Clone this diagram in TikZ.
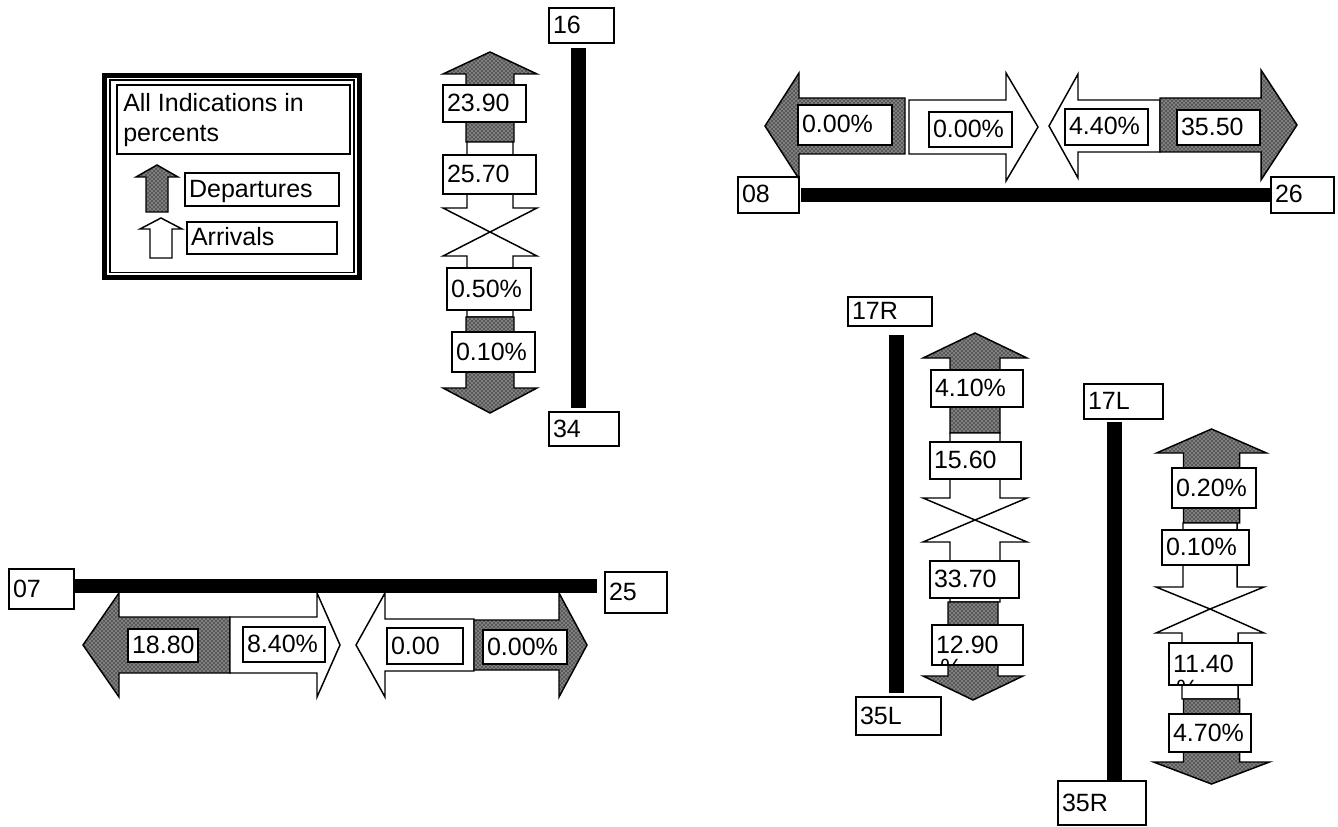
\documentclass[tikz,border=0pt]{standalone}
\usepackage{fontspec}
\setmainfont{Liberation Sans}
\usetikzlibrary{fit,patterns}
\newcommand\lblfont{\fontsize{18.75}{22.5}\selectfont}
\tikzset{
  ln/.style={line width=1.1pt, line join=miter},
  dep/.style={ln, draw=black, preaction={fill=black!65}, pattern=crosshatch dots, pattern color=white},
  arr/.style={ln, draw=black, fill=white},
  lblbox/.style={draw=black, line width=1.1pt, fill=white, inner sep=0pt, rectangle},
  lbltxt/.style={inner sep=0pt, font=\lblfont, anchor=base west},
  bar/.style={fill=black},
}
% vertical arrow: style, cx, tip y, head base y, end y, head half width, shaft half width
\newcommand\varrow[7]{\draw[#1] (#2,#3) -- ({#2+#6},#4) -- ({#2+#7},#4) -- ({#2+#7},#5) -- ({#2-#7},#5) -- ({#2-#7},#4) -- ({#2-#6},#4) -- cycle;}
% horizontal arrow: style, cy, tip x, head base x, end x, head half height, shaft half height
\newcommand\harrow[7]{\draw[#1] (#3,#2) -- (#4,{#2-#6}) -- (#4,{#2-#7}) -- (#5,{#2-#7}) -- (#5,{#2+#7}) -- (#4,{#2+#7}) -- (#4,{#2+#6}) -- cycle;}
% labelled box: name, x0, y0, x1, y1, text
\newcommand\lab[6]{%
  \path (#2,#3) coordinate (#1a) (#4,#5) coordinate (#1b);
  \node[lblbox, fit=(#1a)(#1b)] (#1) {};
  \node[lbltxt] (#1t) at ([xshift=3.4pt,yshift=-6pt]#1.west) {#6};}
\begin{document}
\begin{tikzpicture}[x=0.75pt,y=-0.75pt]
\useasboundingbox (0,0) rectangle (1338,827);

% ---------- legend ----------
\draw[line width=3.75pt] (104.5,75.2) rectangle (359.5,277.5);
\draw[line width=1pt] (110,80) rectangle (354,272.5);
\path (117,85) coordinate (lgta) (350,154) coordinate (lgtb);
\node[lblbox, fit=(lgta)(lgtb)] (lgt) {};
\node[inner sep=0pt, font=\lblfont, align=left, anchor=north west] (lgtt) at (123,93.5) {All Indications in\\percents};
\varrow{dep}{157}{165}{177}{212}{21}{11}
\varrow{arr}{161}{218}{229}{258}{21}{11}
\lab{lg1}{185}{173}{339}{206}{Departures}
\lab{lg2}{187}{222}{337}{254}{Arrivals}

% ---------- runway 16/34 ----------
\lab{r16}{549}{8}{614}{43}{16}
\fill[bar] (571,48) rectangle (586,408);
\lab{r34}{549}{412}{619}{446}{34}
\varrow{dep}{490}{52}{74}{142}{47}{24}
\varrow{arr}{490}{232}{208}{142}{47}{23}
\varrow{arr}{490}{232}{256}{317}{47}{23}
\varrow{dep}{490}{413}{388}{317}{47}{24}
\lab{a1}{443}{85}{526}{122}{23.90}
\lab{a2}{443}{155}{536}{194}{25.70}
\lab{a3}{447}{268}{531}{310}{0.50\%}
\lab{a4}{452}{332}{535}{372}{0.10\%}

% ---------- runway 08/26 ----------
\lab{r08}{738}{177}{799}{213}{08}
\fill[bar] (801,188) rectangle (1270,202);
\lab{r26}{1271}{177}{1334}{213}{26}
\harrow{dep}{126}{765}{799}{905}{53}{28}
\harrow{arr}{127}{1038}{1006}{909}{54}{27}
\harrow{arr}{126}{1049}{1078}{1160}{52}{26}
\harrow{dep}{125}{1297}{1261}{1160}{55}{27}
\lab{d1}{798}{105}{892}{145}{0.00\%}
\lab{d2}{929}{112}{1012}{147}{0.00\%}
\lab{d3}{1065}{109}{1148}{145}{4.40\%}
\lab{d4}{1177}{110}{1260}{145}{35.50}

% ---------- runway 07/25 ----------
\lab{r07}{9}{569}{74}{609}{07}
\fill[bar] (73,579) rectangle (597,593);
\lab{r25}{605}{572}{667}{613}{25}
\harrow{dep}{645}{83}{119}{230}{52}{28}
\harrow{arr}{645}{340}{317}{230}{52}{28}
\harrow{arr}{645}{356}{385}{474}{52}{26}
\harrow{dep}{645}{587}{559}{474}{52}{25}
\lab{e1}{128}{629}{198}{662}{18.80}
\lab{e2}{243}{627}{325}{662}{8.40\%}
\lab{e3}{387}{628}{463}{664}{0.00}
\lab{e4}{483}{630}{567}{664}{0.00\%}

% ---------- runway 17R/35L ----------
\lab{r17R}{848}{297}{932}{326}{17R}
\fill[bar] (889,335) rectangle (904,693);
\lab{r35L}{856}{697}{941}{735}{35L}
\varrow{dep}{975}{333}{358}{433}{52}{25}
\varrow{arr}{975}{520}{498}{433}{52}{25}
\varrow{arr}{975}{520}{542}{602}{52}{25}
\varrow{dep}{973}{700}{676}{602}{50}{25}
\lab{b1}{931}{370}{1023}{407}{4.10\%}
\lab{b2}{930}{442}{1021}{479}{15.60}
\lab{b3}{930}{561}{1019}{598}{33.70}
\lab{b4}{932}{625}{1023}{665}{12.90}
\begin{scope}
\clip (932,625) rectangle (1023,665);
\node[lbltxt, anchor=north west] (b4p) at (940,659) {\%};
\end{scope}

% ---------- runway 17L/35R ----------
\lab{r17L}{1084}{384}{1163}{419}{17L}
\fill[bar] (1107,422) rectangle (1122,780);
\lab{r35R}{1058}{781}{1146}{825}{35R}
\varrow{dep}{1211.5}{429}{453}{523}{55}{28}
\varrow{arr}{1210}{609}{587}{523}{54}{27}
\varrow{arr}{1210}{609}{633}{699}{54}{28}
\varrow{dep}{1211.5}{784}{762}{699}{58}{28}
\lab{c1}{1172}{468}{1256}{508}{0.20\%}
\lab{c2}{1162}{530}{1249}{565}{0.10\%}
\lab{c3}{1169}{643}{1252}{685}{11.40}
\lab{c4}{1169}{714}{1251}{752}{4.70\%}
\begin{scope}
\clip (1169,643) rectangle (1252,685);
\node[lbltxt, anchor=north west] (c3p) at (1176,680) {\%};
\end{scope}
\end{tikzpicture}
\end{document}
